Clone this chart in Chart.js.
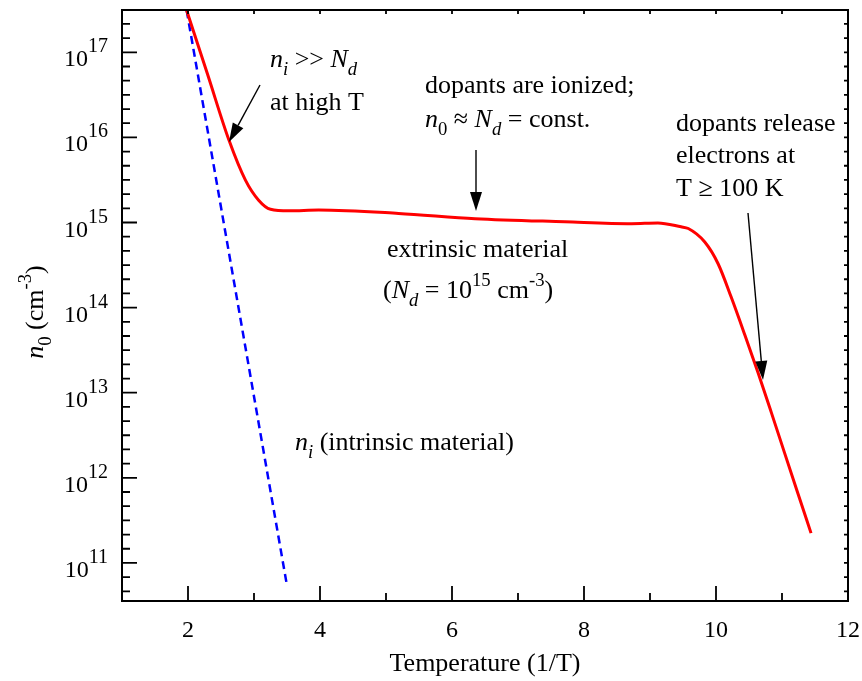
<!DOCTYPE html>
<html>
<head>
<meta charset="utf-8">
<script src="https://cdn.jsdelivr.net/npm/chart.js@4"></script>
<style>
  body { margin: 0; background: #fff; }
  canvas { display: block; }
</style>
</head>
<body>
<canvas id="chart" width="862" height="681"></canvas>
<script>
// n0 vs temperature data
const redX = [1.98, 2.30, 2.62, 2.87, 3.07, 3.25, 3.53, 3.98, 5.19, 6.35, 7.71, 8.72, 9.12, 9.47, 9.58, 9.83, 10.03, 10.23, 10.44, 10.64, 10.84, 11.04, 11.24, 11.44];
const redY = [3.1e17, 5.4e16, 9.3e15, 3.15e15, 1.83e15, 1.43e15, 1.37e15, 1.40e15, 1.28e15, 1.11e15, 1.02e15, 9.7e14, 9.9e14, 8.9e14, 8.5e14, 5.9e14, 3.3e14, 1.33e14, 4.7e13, 1.69e13, 5.8e12, 1.95e12, 6.6e11, 2.24e11];
const blueX = [1.98, 3.50];
const blueY = [3.1e17, 5.4e10];

const xMajor = [2, 4, 6, 8, 10, 12];
const xMinor = [3, 5, 7, 9, 11];
const yExp = [11, 12, 13, 14, 15, 16, 17];

const SERIF = '"Liberation Serif", "Times New Roman", serif';

function richWidth(ctx, parts, size) {
    let w = 0;
    parts.forEach(p => {
        const s = (p.sub || p.sup) ? (p.ss || size * 0.72) : size;
        ctx.font = (p.it ? 'italic ' : '') + s + 'px ' + SERIF;
        w += ctx.measureText(p.t).width;
    });
    return w;
}

function drawRich(ctx, x, y, parts, size) {
    ctx.textAlign = 'left';
    ctx.textBaseline = 'alphabetic';
    parts.forEach(p => {
        const s = (p.sub || p.sup) ? (p.ss || size * 0.72) : size;
        ctx.font = (p.it ? 'italic ' : '') + s + 'px ' + SERIF;
        const dy = p.sub ? size * 0.3 : p.sup ? -(p.up || size * 0.45) : 0;
        ctx.fillText(p.t, x, y + dy);
        x += ctx.measureText(p.t).width;
    });
    return x;
}

function arrow(ctx, x1, y1, x2, y2) {
    const a = Math.atan2(y2 - y1, x2 - x1);
    const len = 19, half = 6;
    const bx = x2 - len * Math.cos(a), by = y2 - len * Math.sin(a);
    ctx.beginPath();
    ctx.moveTo(x1, y1);
    ctx.lineTo(bx, by);
    ctx.lineWidth = 1.4;
    ctx.strokeStyle = '#000';
    ctx.stroke();
    ctx.beginPath();
    ctx.moveTo(x2, y2);
    ctx.lineTo(bx + half * Math.sin(a), by - half * Math.cos(a));
    ctx.lineTo(bx - half * Math.sin(a), by + half * Math.cos(a));
    ctx.closePath();
    ctx.fillStyle = '#000';
    ctx.fill();
}

const framePlugin = {
    id: 'frame',
    afterDraw(chart) {
        const ctx = chart.ctx;
        const { left, right, top, bottom } = chart.chartArea;
        const xs = chart.scales.x, ys = chart.scales.y;
        ctx.save();
        ctx.strokeStyle = '#000';
        ctx.fillStyle = '#000';

        // frame
        ctx.lineWidth = 2;
        ctx.strokeRect(left, top, right - left, bottom - top);

        // x ticks (inward, bottom long; top short)
        ctx.lineWidth = 1.8;
        ctx.beginPath();
        xMajor.concat(xMinor).forEach(v => {
            const px = xs.getPixelForValue(v);
            const l = xMajor.includes(v) ? 15 : 8;
            ctx.moveTo(px, bottom); ctx.lineTo(px, bottom - l);
        });
        for (let v = 2; v < 12; v++) {
            const px = xs.getPixelForValue(v);
            ctx.moveTo(px, top); ctx.lineTo(px, top + 4);
        }
        // y ticks every 1/6 decade
        for (let e = 10; e <= 17; e++) {
            for (let k = 0; k < 6; k++) {
                const v = Math.pow(10, e + k / 6);
                if (v < ys.min || v > ys.max) continue;
                const py = ys.getPixelForValue(v);
                const l = k === 0 ? 15 : 8;
                ctx.moveTo(left, py); ctx.lineTo(left + l, py);
                ctx.moveTo(right, py); ctx.lineTo(right - 4, py);
            }
        }
        ctx.stroke();

        // x tick labels
        ctx.font = '24px ' + SERIF;
        ctx.textAlign = 'center';
        ctx.textBaseline = 'alphabetic';
        xMajor.forEach(v => ctx.fillText(String(v), xs.getPixelForValue(v), bottom + 36));

        // y tick labels 10^n
        yExp.forEach(e => {
            const py = ys.getPixelForValue(Math.pow(10, e));
            const parts = [{ t: '10' }, { t: String(e), sup: true, ss: 20, up: 14 }];
            const w = richWidth(ctx, parts, 24);
            drawRich(ctx, left - 14 - w, py + 14, parts, 24);
        });

        // axis titles
        ctx.font = '26px ' + SERIF;
        ctx.textAlign = 'center';
        ctx.fillText('Temperature (1/T)', (left + right) / 2, bottom + 70);

        const yTitle = [{ t: 'n', it: true }, { t: '0', sub: true }, { t: ' (cm' }, { t: '-3', sup: true }, { t: ')' }];
        ctx.save();
        ctx.translate(43, 312);
        ctx.rotate(-Math.PI / 2);
        drawRich(ctx, -richWidth(ctx, yTitle, 26) / 2, 0, yTitle, 26);
        ctx.restore();

        // annotations
        const S = 26;
        drawRich(ctx, 270, 67, [{ t: 'n', it: true }, { t: 'i', it: true, sub: true }, { t: ' >> ' }, { t: 'N', it: true }, { t: 'd', it: true, sub: true }], S);
        drawRich(ctx, 270, 110, [{ t: 'at high T' }], S);
        arrow(ctx, 260, 85, 229, 142);

        drawRich(ctx, 425, 93, [{ t: 'dopants are ionized;' }], S);
        drawRich(ctx, 425, 127, [{ t: 'n', it: true }, { t: '0', sub: true }, { t: ' \u2248 ' }, { t: 'N', it: true }, { t: 'd', it: true, sub: true }, { t: ' = const.' }], S);
        arrow(ctx, 476, 150, 476, 211);

        drawRich(ctx, 676, 131, [{ t: 'dopants release' }], S);
        drawRich(ctx, 676, 163, [{ t: 'electrons at' }], S);
        drawRich(ctx, 676, 196, [{ t: 'T \u2265 100 K' }], S);
        arrow(ctx, 748, 213, 763, 380);

        drawRich(ctx, 387, 257, [{ t: 'extrinsic material' }], S);
        drawRich(ctx, 383, 298, [{ t: '(' }, { t: 'N', it: true }, { t: 'd', it: true, sub: true }, { t: ' = 10' }, { t: '15', sup: true }, { t: ' cm' }, { t: '-3', sup: true }, { t: ')' }], S);

        drawRich(ctx, 295, 450, [{ t: 'n', it: true }, { t: 'i', it: true, sub: true }, { t: ' (intrinsic material)' }], S);

        ctx.restore();
    }
};

new Chart(document.getElementById('chart'), {
    type: 'scatter',
    data: {
        datasets: [
            {
                label: 'n0',
                data: redX.map((x, i) => ({ x: x, y: redY[i] })),
                showLine: true,
                borderColor: '#ff0000',
                borderWidth: 3,
                pointRadius: 0,
                cubicInterpolationMode: 'monotone'
            },
            {
                label: 'ni',
                data: blueX.map((x, i) => ({ x: x, y: blueY[i] })),
                showLine: true,
                borderColor: '#0000ff',
                borderWidth: 2.5,
                borderDash: [8, 5],
                pointRadius: 0
            }
        ]
    },
    options: {
        responsive: false,
        animation: false,
        layout: { padding: { left: 122, right: 14, top: 10, bottom: 80 } },
        scales: {
            x: { type: 'linear', min: 1, max: 12, display: false },
            y: { type: 'logarithmic', min: 3.57e10, max: 3.14e17, display: false }
        },
        plugins: { legend: { display: false }, tooltip: { enabled: false } }
    },
    plugins: [framePlugin]
});
</script>
</body>
</html>
